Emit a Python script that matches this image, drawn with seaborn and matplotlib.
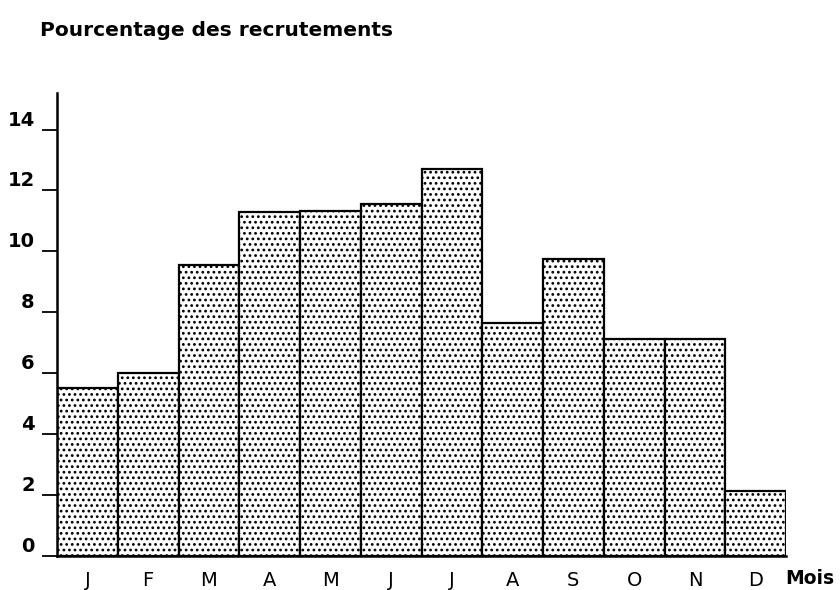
import numpy as np
import pandas as pd
import matplotlib
matplotlib.use("Agg")
import matplotlib.pyplot as plt
import seaborn as sns

# ── Data ──────────────────────────────────────────────────────────────────────
mois_codes  = ["jan", "fev", "mar", "avr", "mai", "jun",
               "jul", "aou", "sep", "oct", "nov", "dec"]
mois_labels = ["J", "F", "M", "A", "M", "J", "J", "A", "S", "O", "N", "D"]
pourcentage = [5.5, 6.0, 9.55, 11.28, 11.31, 11.57,
               12.69, 7.64, 9.74, 7.11, 7.11, 2.13]
y_ticks     = [0, 2, 4, 6, 8, 10, 12, 14]

df = pd.DataFrame({"mois": mois_codes, "pct": pourcentage})

sns.set_style("white")
plt.rcParams.update({
    "font.family": ["DejaVu Sans"],
    "text.color": "black", "xtick.color": "black", "ytick.color": "black",
    "hatch.linewidth": 1.2, "hatch.color": "black",
})

fig = plt.figure(figsize=(8.4, 5.9), dpi=100)
ax = fig.add_axes([57 / 840, 34 / 590, 729 / 840, 463 / 590])

sns.barplot(data=df, x="mois", y="pct", order=mois_codes, ax=ax,
            color="white", saturation=1, width=1.0,
            edgecolor="black", linewidth=1.6, hatch="...")

ax.set_xlim(-0.5, 11.5)
ax.set_ylim(0, 15.2)
ax.set_xlabel(""); ax.set_ylabel("")

for side in ["top", "right"]:
    ax.spines[side].set_visible(False)
for side in ["left", "bottom"]:
    ax.spines[side].set_linewidth(1.8)
    ax.spines[side].set_color("black")

ax.set_yticks(y_ticks)
ax.set_yticklabels([str(t) for t in y_ticks], fontsize=14, fontweight="bold")
for lbl in ax.get_yticklabels():
    lbl.set_va("bottom")
ax.tick_params(axis="y", length=11, width=1.3, direction="out", pad=5, left=True)

ax.set_xticks(range(len(mois_labels)))
ax.set_xticklabels(mois_labels, fontsize=14)
ax.tick_params(axis="x", length=0, pad=11)

fig.text(785 / 840, 1 - 578 / 590, "Mois", fontsize=13.5, fontweight="bold",
         ha="left", va="center")
fig.text(40 / 840, 1 - 30 / 590, "Pourcentage des recrutements", fontsize=14.5,
         fontweight="bold", ha="left", va="center")

fig.savefig("out.png", dpi=100, facecolor="white")
